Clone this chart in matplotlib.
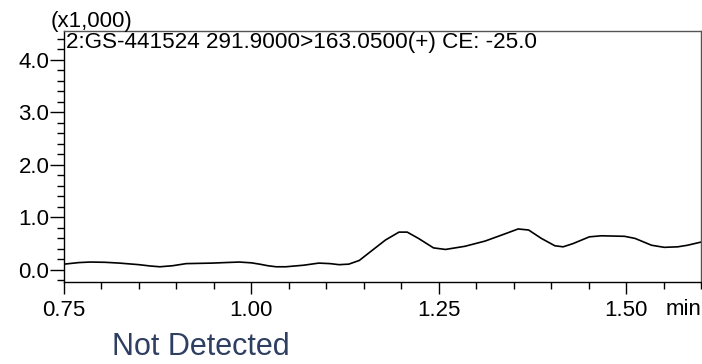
import numpy as np
import matplotlib.pyplot as plt
from matplotlib.ticker import MultipleLocator

plt.rcParams['font.family'] = ['Liberation Sans', 'DejaVu Sans']

# retention time (min) and intensity (x1,000)
rt = [0.750, 0.770, 0.785, 0.805, 0.824, 0.850, 0.865, 0.878, 0.895, 0.913,
      0.948, 0.965, 0.984, 1.000, 1.011, 1.022, 1.033, 1.046, 1.070, 1.090,
      1.105, 1.117, 1.130, 1.144, 1.161, 1.179, 1.197, 1.208, 1.223, 1.243,
      1.259, 1.285, 1.312, 1.339, 1.356, 1.370, 1.387, 1.405, 1.416, 1.429,
      1.451, 1.467, 1.498, 1.512, 1.534, 1.551, 1.569, 1.582, 1.600]
intensity = [0.11, 0.14, 0.15, 0.145, 0.13, 0.10, 0.075, 0.06, 0.08, 0.12,
             0.13, 0.14, 0.15, 0.135, 0.11, 0.08, 0.06, 0.06, 0.09, 0.13,
             0.12, 0.10, 0.11, 0.18, 0.37, 0.57, 0.72, 0.72, 0.60, 0.42,
             0.39, 0.45, 0.55, 0.69, 0.78, 0.76, 0.60, 0.46, 0.44, 0.50,
             0.63, 0.65, 0.64, 0.60, 0.47, 0.43, 0.44, 0.47, 0.53]

x_major = [0.75, 1.00, 1.25, 1.50]
x_labels = ['0.75', '1.00', '1.25', '1.50']
y_major = [0.0, 1.0, 2.0, 3.0, 4.0]
y_labels = ['0.0', '1.0', '2.0', '3.0', '4.0']

trace_title = '2:GS-441524 291.9000>163.0500(+) CE: -25.0'

fig = plt.figure(figsize=(7.02, 3.64), dpi=100)
ax = fig.add_axes([64/702, 82/364, 637/702, 251/364])

ax.plot(rt, intensity, color='black', lw=1.2, solid_joinstyle='round')
ax.set_xlim(0.75, 1.60)
ax.set_ylim(-0.23, 4.55)

ax.set_xticks(x_major)
ax.set_xticklabels(x_labels)
ax.xaxis.set_minor_locator(MultipleLocator(0.05))
ax.set_yticks(y_major)
ax.set_yticklabels(y_labels)
ax.yaxis.set_minor_locator(MultipleLocator(0.2))

ax.tick_params(axis='x', which='major', direction='out', length=8.6, width=1, labelsize=16, pad=4)
ax.tick_params(axis='x', which='minor', direction='out', length=5, width=1)
ax.tick_params(axis='y', which='major', direction='out', length=10, width=1, labelsize=16, pad=0.5)
ax.tick_params(axis='y', which='minor', direction='out', length=5, width=1)
for s in ax.spines.values():
    s.set_linewidth(1)
    s.set_color('black')
ax.spines['top'].set_color('#555555')
ax.spines['right'].set_color('#555555')

ax.text(0.003, 0.997, trace_title, transform=ax.transAxes, ha='left', va='top', fontsize=16.2)
fig.text(51/702, 1 - 32/364, '(x1,000)', ha='left', va='bottom', fontsize=16)
# unit label sits on the tick label row
ax.annotate('min', xy=(1.0, 0), xycoords='axes fraction', xytext=(0, -12), textcoords='offset points',
            ha='right', va='top', fontsize=16)

fig.text(112/702, 2/364, 'Not Detected', ha='left', va='bottom', fontsize=22, color='#2e3f62')

fig.savefig('out.png', dpi=100)
